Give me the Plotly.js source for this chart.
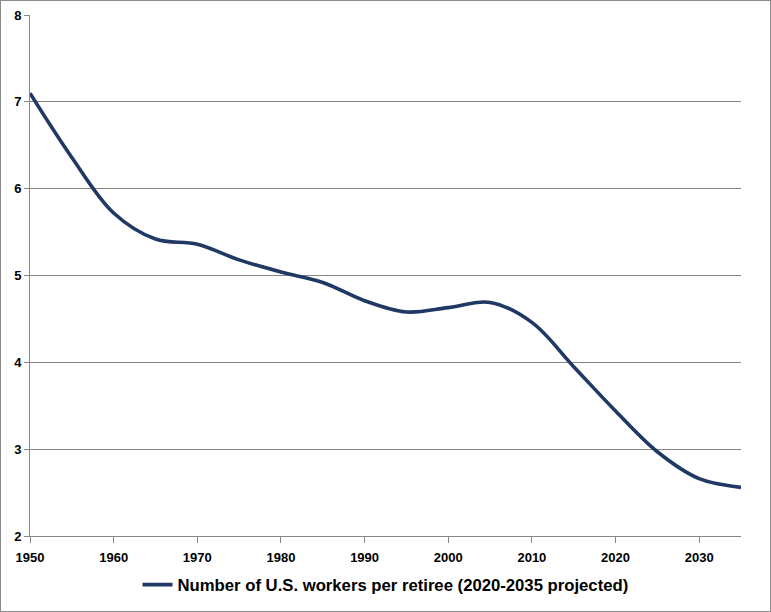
<!DOCTYPE html>
<html><head><meta charset="utf-8">
<script src="https://cdn.plot.ly/plotly-3.0.1.min.js"></script>
<style>
html,body{margin:0;padding:0;background:#fff;}
#chart{width:769px;height:610px;border:1px solid #8c8c8c;}
</style></head>
<body><div id="chart"></div>
<script>
var years = [1950,1955,1960,1965,1970,1975,1980,1985,1990,1995,2000,2005,2010,2015,2020,2025,2030,2035];
var workersPerRetiree = [7.10,6.36,5.72,5.42,5.36,5.18,5.04,4.92,4.71,4.58,4.63,4.69,4.46,3.95,3.44,2.97,2.66,2.56];
var seriesName = 'Number of U.S. workers per retiree (2020-2035 projected)';
var xTicks = [1950,1960,1970,1980,1990,2000,2010,2020,2030];
var yTicks = [2,3,4,5,6,7,8];

var tickFont = "'Liberation Sans',Arial,sans-serif";
var legFont = "'Liberation Sans Narrow','Liberation Sans',Arial,sans-serif";
var trace = {
  x: years, y: workersPerRetiree, type: 'scatter', mode: 'lines',
  name: seriesName,
  line: {color: '#1f3864', width: 3.6, shape: 'spline', smoothing: 1.0}
};
var layout = {
  width: 769, height: 610,
  margin: {l: 29, r: 29, t: 14, b: 75},
  paper_bgcolor: '#fff', plot_bgcolor: '#fff',
  showlegend: true,
  legend: {orientation: 'h', x: 0.5, xanchor: 'center', xref: 'container',
           y: 0.043, yanchor: 'middle', yref: 'container',
           font: {family: legFont, size: 16.7, color: '#000', weight: 'bold'}},
  xaxis: {range: [1950, 2035], tickvals: xTicks, ticktext: xTicks.map(String),
          showgrid: false, zeroline: false, showline: true, linecolor: '#868686', linewidth: 1,
          ticks: 'outside', ticklen: 6, tickcolor: '#868686', ticklabelstandoff: 3,
          tickfont: {family: tickFont, size: 13, color: '#000', weight: 'bold'}},
  yaxis: {range: [2, 8], tickvals: yTicks, ticktext: yTicks.map(String),
          showgrid: true, gridcolor: '#868686', gridwidth: 1, zeroline: false,
          showline: true, linecolor: '#868686', linewidth: 1,
          ticks: 'outside', ticklen: 5, tickcolor: '#868686',
          tickfont: {family: tickFont, size: 13, color: '#000', weight: 'bold'}}
};
Plotly.newPlot('chart', [trace], layout, {displayModeBar: false});
</script></body></html>
